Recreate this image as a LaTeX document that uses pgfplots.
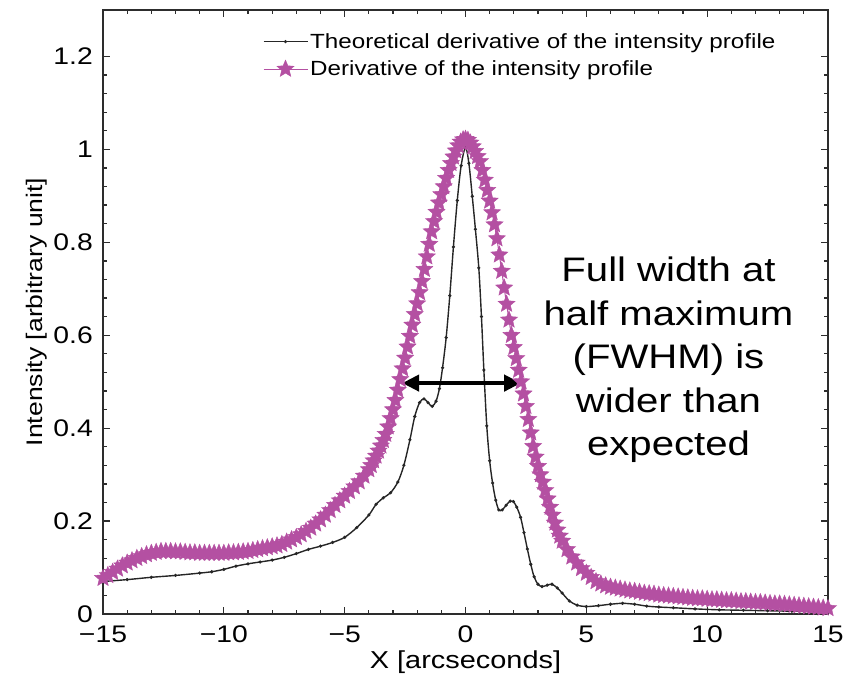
\documentclass[border=0pt]{standalone}
\usepackage{fontspec}
\setmainfont{Liberation Sans}[FakeStretch=1.18]
\usepackage{pgfplots}
\pgfplotsset{compat=1.18}
\usetikzlibrary{arrows.meta,calc}
\definecolor{starpink}{RGB}{180,80,162}
\definecolor{axisgray}{RGB}{45,45,45}

% filled five-pointed star
\pgfdeclareplotmark{fstar}{%
  \pgfpathmoveto{\pgfpointpolar{90}{\pgfplotmarksize}}%
  \pgfpathlineto{\pgfpointpolar{126}{0.45\pgfplotmarksize}}%
  \pgfpathlineto{\pgfpointpolar{162}{\pgfplotmarksize}}%
  \pgfpathlineto{\pgfpointpolar{198}{0.45\pgfplotmarksize}}%
  \pgfpathlineto{\pgfpointpolar{234}{\pgfplotmarksize}}%
  \pgfpathlineto{\pgfpointpolar{270}{0.45\pgfplotmarksize}}%
  \pgfpathlineto{\pgfpointpolar{306}{\pgfplotmarksize}}%
  \pgfpathlineto{\pgfpointpolar{342}{0.45\pgfplotmarksize}}%
  \pgfpathlineto{\pgfpointpolar{18}{\pgfplotmarksize}}%
  \pgfpathlineto{\pgfpointpolar{54}{0.45\pgfplotmarksize}}%
  \pgfpathclose
  \pgfusepathqfillstroke
}

\begin{document}
\begin{tikzpicture}
\begin{axis}[
  name=ax,
  scale only axis,
  width=725pt, height=604pt,
  xmin=-15, xmax=15, ymin=0, ymax=1.3,
  xtick={-15,-10,-5,0,5,10,15},
  xticklabels={−15,−10,−5,0,5,10,15},
  ytick={0,0.2,0.4,0.6,0.8,1,1.2},
  yticklabels={0,0.2,0.4,0.6,0.8,1,1.2},
  minor x tick num=4,
  minor y tick num=4,
  tick align=inside,
  major tick length=7pt, minor tick length=4pt,
  every tick/.style={axisgray, line width=1.3pt},
  axis line style={axisgray, line width=2pt},
  ticklabel style={font=\fontsize{24}{28}\selectfont},
  xticklabel style={anchor=north, inner sep=0pt, yshift=-12pt},
  yticklabel style={anchor=east, inner sep=0pt, xshift=-10pt},
  xlabel={X [arcseconds]},
  ylabel={Intensity [arbitrary unit]},
  xlabel style={font=\fontsize{24.5}{28}\selectfont, at={(axis description cs:0.5,-0.079)}, anchor=center},
  ylabel style={font=\fontsize{22.5}{26}\selectfont, at={(axis description cs:-0.092,0.5)}, anchor=center},
  legend style={at={(0.216,0.968)}, anchor=north west, draw=none, fill=none,
    font=\fontsize{20.5}{24}\selectfont, row sep=7pt, cells={anchor=west}},
  legend image code/.code={\draw[mark repeat=2,mark phase=2,#1] plot coordinates {(0pt,0pt) (22pt,0pt) (44pt,0pt)};},
]
% theoretical derivative
\addplot[color=black!85, line width=1.4pt, smooth, mark=*, mark size=0.8pt] table {
x y
-15.0 0.070
-14.0 0.074
-13.0 0.079
-12.0 0.083
-11.0 0.088
-10.5 0.091
-10.0 0.096
-9.5 0.103
-9.0 0.108
-8.5 0.112
-8.0 0.116
-7.5 0.122
-7.0 0.130
-6.5 0.139
-6.0 0.146
-5.5 0.154
-5.0 0.165
-4.5 0.186
-4.0 0.213
-3.7 0.236
-3.4 0.250
-3.1 0.261
-2.8 0.284
-2.55 0.320
-2.3 0.375
-2.1 0.425
-1.9 0.455
-1.72 0.463
-1.55 0.455
-1.38 0.447
-1.22 0.458
-1.08 0.485
-0.95 0.530
-0.8 0.595
-0.65 0.685
-0.5 0.790
-0.34 0.890
-0.18 0.965
0.0 1.004
0.14 0.970
0.28 0.899
0.41 0.828
0.55 0.745
0.66 0.640
0.76 0.525
0.88 0.405
1.0 0.330
1.12 0.282
1.25 0.245
1.38 0.224
1.52 0.224
1.68 0.234
1.85 0.243
1.98 0.242
2.12 0.230
2.28 0.208
2.42 0.175
2.56 0.140
2.7 0.107
2.84 0.080
3.0 0.064
3.17 0.059
3.38 0.062
3.58 0.064
3.8 0.056
4.0 0.045
4.3 0.028
4.62 0.019
5.0 0.016
5.5 0.018
6.0 0.021
6.5 0.023
7.0 0.021
7.5 0.017
8.0 0.015
8.6 0.0135
9.5 0.011
10.5 0.009
11.5 0.008
12.5 0.007
13.5 0.006
15.0 0.005
};
\addlegendentry{Theoretical derivative of the intensity profile}
% measured derivative
\addplot[color=starpink, line width=1pt, mark=fstar, mark size=9pt,
  mark options={fill=starpink, draw=starpink, line width=0.4pt}] table {
x y
-15.0 0.077
-14.8 0.083
-14.6 0.090
-14.4 0.097
-14.2 0.104
-14.0 0.110
-13.8 0.115
-13.6 0.120
-13.4 0.124
-13.2 0.128
-13.0 0.131
-12.8 0.133
-12.6 0.135
-12.4 0.135
-12.2 0.135
-12.0 0.134
-11.8 0.134
-11.6 0.133
-11.4 0.132
-11.2 0.132
-11.0 0.131
-10.8 0.131
-10.6 0.131
-10.4 0.131
-10.2 0.131
-10.0 0.131
-9.8 0.132
-9.6 0.132
-9.4 0.133
-9.2 0.134
-9.0 0.135
-8.8 0.137
-8.6 0.139
-8.4 0.141
-8.2 0.143
-8.0 0.145
-7.8 0.147
-7.6 0.150
-7.4 0.155
-7.2 0.160
-7.0 0.165
-6.8 0.171
-6.6 0.178
-6.4 0.185
-6.2 0.194
-6.0 0.203
-5.8 0.213
-5.6 0.223
-5.4 0.234
-5.2 0.244
-5.0 0.254
-4.8 0.264
-4.6 0.274
-4.4 0.285
-4.2 0.297
-4.0 0.311
-3.9 0.320
-3.8 0.330
-3.7 0.340
-3.6 0.351
-3.5 0.362
-3.4 0.374
-3.3 0.387
-3.2 0.403
-3.1 0.421
-3.0 0.440
-2.9 0.460
-2.8 0.482
-2.7 0.505
-2.6 0.528
-2.5 0.551
-2.4 0.575
-2.3 0.598
-2.2 0.622
-2.1 0.645
-2.0 0.668
-1.9 0.692
-1.8 0.716
-1.7 0.742
-1.6 0.769
-1.5 0.796
-1.4 0.823
-1.3 0.845
-1.2 0.865
-1.1 0.885
-1.0 0.903
-0.9 0.920
-0.8 0.938
-0.7 0.955
-0.6 0.970
-0.5 0.984
-0.4 0.997
-0.3 1.008
-0.2 1.016
-0.1 1.021
0.0 1.022
0.1 1.020
0.2 1.014
0.3 1.006
0.4 0.996
0.5 0.985
0.6 0.974
0.7 0.955
0.8 0.934
0.9 0.912
1.0 0.889
1.1 0.864
1.2 0.838
1.3 0.808
1.4 0.773
1.5 0.738
1.6 0.702
1.7 0.667
1.8 0.633
1.9 0.600
2.0 0.574
2.1 0.550
2.2 0.525
2.3 0.500
2.4 0.474
2.5 0.447
2.6 0.419
2.7 0.390
2.8 0.361
2.9 0.338
3.0 0.318
3.1 0.300
3.2 0.284
3.3 0.266
3.4 0.248
3.5 0.230
3.6 0.213
3.7 0.196
3.8 0.181
3.9 0.168
4.0 0.157
4.2 0.139
4.4 0.123
4.6 0.110
4.8 0.098
5.0 0.088
5.2 0.079
5.4 0.070
5.6 0.065
5.8 0.061
6.0 0.058
6.2 0.056
6.4 0.054
6.6 0.052
6.8 0.050
7.0 0.049
7.2 0.047
7.4 0.045
7.6 0.044
7.8 0.043
8.0 0.041
8.2 0.040
8.4 0.039
8.6 0.038
8.8 0.037
9.0 0.036
9.2 0.035
9.4 0.034
9.6 0.033
9.8 0.033
10.0 0.032
10.2 0.031
10.4 0.031
10.6 0.030
10.8 0.029
11.0 0.029
11.2 0.028
11.4 0.027
11.6 0.027
11.8 0.026
12.0 0.025
12.2 0.025
12.4 0.024
12.6 0.023
12.8 0.022
13.0 0.022
13.2 0.021
13.4 0.020
13.6 0.019
13.8 0.018
14.0 0.017
14.2 0.016
14.4 0.015
14.6 0.014
14.8 0.013
15.0 0.012
};
\addlegendentry{Derivative of the intensity profile}
% FWHM arrow and note
\draw[line width=4.5pt, {Triangle[length=17pt,width=16pt]}-{Triangle[length=17pt,width=16pt]}]
  (axis cs:-2.62,0.497) -- (axis cs:2.30,0.497);
\node[align=center, font=\fontsize{34}{43.5}\selectfont] at (axis cs:8.4,0.547)
  {Full width at\\half maximum\\(FWHM) is\\wider than\\expected};
\end{axis}
\pgfresetboundingbox
\path[use as bounding box] ($(ax.south west)+(-103pt,-60pt)$) rectangle ($(ax.north east)+(26pt,10pt)$);
\end{tikzpicture}
\end{document}
